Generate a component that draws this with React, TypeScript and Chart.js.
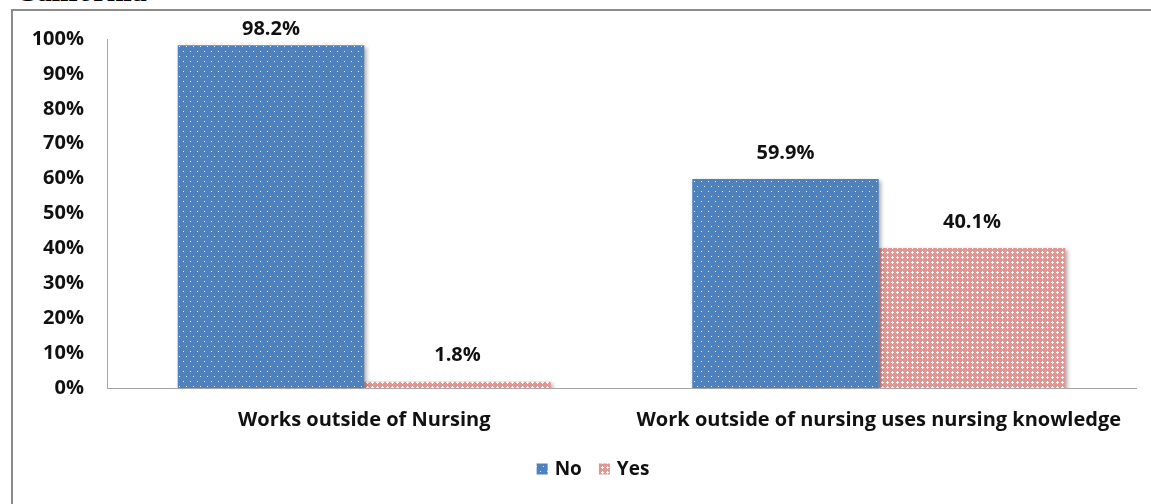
import React, { useEffect, useRef } from "react";
import { Chart, registerables } from "chart.js";

Chart.register(...registerables);

const categories = ["Works outside of Nursing", "Work outside of nursing uses nursing knowledge"];
const seriesNames = ["No", "Yes"];
const noValues = [98.2, 59.9];
const yesValues = [1.8, 40.1];
const yTicks = [0, 10, 20, 30, 40, 50, 60, 70, 80, 90, 100];
const titleText = "California";

const FONT = "'Open Sans', Lato, sans-serif";

function makeDotPattern(): CanvasPattern | string {
  const c = document.createElement("canvas");
  c.width = 14;
  c.height = 10;
  const x = c.getContext("2d");
  if (!x) return "#4F81BD";
  x.fillStyle = "#4F81BD";
  x.fillRect(0, 0, 14, 10);
  x.fillStyle = "#E8EEF7";
  [[1, 1], [8, 1], [4, 6], [11, 6]].forEach(([px, py]) => x.fillRect(px, py, 1, 1));
  const p = x.createPattern(c, "repeat");
  return p || "#4F81BD";
}

function makeCrossPattern(): CanvasPattern | string {
  const c = document.createElement("canvas");
  c.width = 5;
  c.height = 5;
  const x = c.getContext("2d");
  if (!x) return "#E39A98";
  x.fillStyle = "#E29694";
  x.fillRect(0, 0, 5, 5);
  x.fillStyle = "#FFFFFF";
  x.fillRect(2, 1, 1, 3);
  x.fillRect(1, 2, 3, 1);
  const p = x.createPattern(c, "repeat");
  return p || "#E39A98";
}

export default function App() {
  const ref = useRef<HTMLCanvasElement>(null);

  useEffect(() => {
    if (!ref.current) return;
    const blue = makeDotPattern();
    const red = makeCrossPattern();

    const shadowPlugin = {
      id: "barShadow",
      beforeDatasetDraw(chart: any) {
        const ctx = chart.ctx;
        ctx.save();
        ctx.shadowColor = "rgba(0,0,0,0.35)";
        ctx.shadowBlur = 4;
        ctx.shadowOffsetX = 2;
        ctx.shadowOffsetY = 2;
      },
      afterDatasetDraw(chart: any) {
        chart.ctx.restore();
      },
    };

    const labelPlugin = {
      id: "valueLabels",
      afterDatasetsDraw(chart: any) {
        const ctx = chart.ctx;
        ctx.save();
        ctx.font = "bold 20px " + FONT;
        ctx.fillStyle = "#111";
        ctx.textAlign = "center";
        ctx.textBaseline = "middle";
        chart.data.datasets.forEach((ds: any, i: number) => {
          const meta = chart.getDatasetMeta(i);
          meta.data.forEach((bar: any, j: number) => {
            const y = Math.max(bar.y - 26, 29);
            ctx.fillText(ds.data[j].toFixed(1) + "%", bar.x, y);
          });
        });
        ctx.restore();
      },
    };

    const legendPlugin = {
      id: "customLegend",
      afterDraw(chart: any) {
        const ctx = chart.ctx;
        ctx.save();
        ctx.font = "bold 19px " + FONT;
        ctx.textBaseline = "middle";
        ctx.textAlign = "left";
        const y = 469;
        const box = 11;
        const gapBoxText = 7;
        const gapItems = 17;
        const widths = chart.data.datasets.map((d: any) => box + gapBoxText + ctx.measureText(d.label).width);
        const total = widths.reduce((a: number, b: number) => a + b, 0) + gapItems * (widths.length - 1);
        let x = 593 - total / 2;
        chart.data.datasets.forEach((d: any, i: number) => {
          ctx.fillStyle = d.backgroundColor;
          ctx.fillRect(x, y - box / 2, box, box);
          ctx.fillStyle = "#111";
          ctx.fillText(d.label, x + box + gapBoxText, y + 1);
          x += widths[i] + gapItems;
        });
        ctx.restore();
      },
    };

    const chart = new Chart(ref.current, {
      type: "bar",
      data: {
        labels: categories,
        datasets: [
          { label: seriesNames[0], data: noValues, backgroundColor: blue as any, borderWidth: 0 },
          { label: seriesNames[1], data: yesValues, backgroundColor: red as any, borderWidth: 0 },
        ],
      },
      options: {
        animation: false,
        responsive: false,
        maintainAspectRatio: false,
        layout: { padding: { top: 39, right: 15, bottom: 0, left: 0 } },
        plugins: { legend: { display: false }, tooltip: { enabled: false } },
        datasets: { bar: { categoryPercentage: 0.725, barPercentage: 1 } },
        scales: {
          x: {
            grid: { display: false, drawTicks: false },
            border: { display: true, color: "#A6A6A6", width: 1 },
            ticks: { color: "#111", font: { family: FONT, size: 20, weight: "bold" }, padding: 20, maxRotation: 0 },
            afterFit(scale: any) { scale.height = 116; },
          },
          y: {
            min: 0,
            max: 100,
            afterBuildTicks(scale: any) { scale.ticks = yTicks.map((v) => ({ value: v })); },
            grid: { display: false, drawTicks: false },
            border: { display: true, color: "#A6A6A6", width: 1 },
            ticks: {
              color: "#111",
              font: { family: FONT, size: 20, weight: "bold" },
              padding: 23,
              callback: (v: any) => v + "%",
            },
            afterFit(scale: any) { scale.width = 107; },
          },
        },
      },
      plugins: [shadowPlugin, labelPlugin, legendPlugin],
    });
    return () => chart.destroy();
  }, []);

  return (
    <div style={{ position: "absolute", left: 0, top: 0, width: 1151, height: 504, overflow: "hidden", background: "#fff" }}>
      <div
        style={{
          position: "absolute",
          left: 15,
          top: -24,
          fontFamily: "'Liberation Serif', 'Times New Roman', serif",
          fontWeight: "bold",
          fontSize: 30,
          lineHeight: "30px",
          color: "#000",
          whiteSpace: "nowrap",
        }}
      >
        {titleText}
      </div>
      <div
        style={{
          position: "absolute",
          left: 11,
          top: 9,
          width: 1200,
          height: 600,
          border: "2px solid #8C8C8C",
          boxSizing: "border-box",
        }}
      />
      <canvas ref={ref} width={1151} height={504} style={{ position: "absolute", left: 0, top: 0 }} />
    </div>
  );
}
